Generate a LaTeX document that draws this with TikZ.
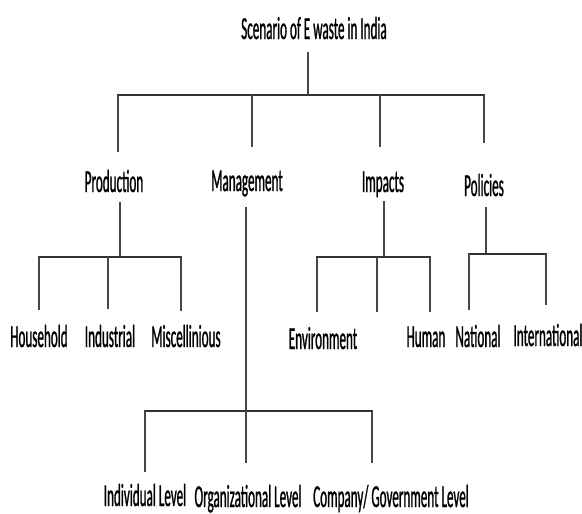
\documentclass[tikz,border=0pt]{standalone}
\usepackage{fontspec}
\setmainfont[FakeStretch=0.41, FakeBold=0.8]{Carlito}
\begin{document}
\begin{tikzpicture}[x=1pt, y=-1pt]
% E-waste tree, laid out in pixel units with y pointing down
\providecommand{\treeTextColor}{black}
\providecommand{\treeBarColor}{black!80}
\providecommand{\treeStemColor}{black!72}
\providecommand{\treeBarWidth}{2.6pt}
\providecommand{\treeStemWidth}{1.2pt}
\tikzset{
  lbl/.style={anchor=base, inner sep=0pt, text=\treeTextColor, font=\fontsize{32}{36}\selectfont},
  bar/.style={draw=\treeBarColor, line width=\treeBarWidth, shorten <=-0.6pt, shorten >=-0.6pt},
  stem/.style={draw=\treeStemColor, line width=\treeStemWidth},
}
\useasboundingbox (0,0) rectangle (582,514);
% Labels
\node[lbl] (root) at (314,39) {Scenario of E waste in India};
\node[lbl] (prod) at (114,192) {Production};
\node[lbl] (mgmt) at (247,191) {Management};
\node[lbl] (imp) at (383,192) {Impacts};
\node[lbl] (pol) at (484,196) {Policies};
\node[lbl] (house) at (39,347) {Household};
\node[lbl] (indus) at (110,347) {Industrial};
\node[lbl] (misc) at (186,347) {Miscellinious};
\node[lbl] (env) at (323,349) {Environment};
\node[lbl] (human) at (426,347) {Human};
\node[lbl] (natl) at (478,347) {National};
\node[lbl] (intl) at (548,346) {International};
\node[lbl] (indiv) at (145,506) {Individual Level};
\node[lbl] (org) at (248,507) {Organizational Level};
\node[lbl] (comp) at (391,507) {Company/ Government Level};
% Fork points on the bars
\coordinate (root-fork) at (308,95);
\coordinate (prod-drop) at (118,95);
\coordinate (mgmt-drop) at (252,95);
\coordinate (imp-drop) at (380,95);
\coordinate (pol-drop) at (484,95);
\coordinate (prod-fork) at (120,257);
\coordinate (house-drop) at (39,257);
\coordinate (indus-drop) at (108,257);
\coordinate (misc-drop) at (181,257);
\coordinate (mgmt-fork) at (246,411);
\coordinate (indiv-drop) at (145,411);
\coordinate (org-drop) at (246,411);
\coordinate (comp-drop) at (372,411);
\coordinate (imp-fork) at (384,257);
\coordinate (env-drop) at (317,257);
\coordinate (mid-drop) at (377,257);
\coordinate (human-drop) at (430,257);
\coordinate (pol-fork) at (486,254);
\coordinate (natl-drop) at (469,254);
\coordinate (intl-drop) at (546,254);
% Stems down to the bars
\draw[stem] ([yshift=-13pt]root.south -| root-fork) -- (root-fork);
\draw[stem] ([yshift=-10pt]prod.south -| prod-fork) -- (prod-fork);
\draw[stem] ([yshift=-10pt]mgmt.south -| mgmt-fork) -- (mgmt-fork);
\draw[stem] ([yshift=-4pt]imp.south -| imp-fork) -- (imp-fork);
\draw[stem] ([yshift=-11pt]pol.south -| pol-fork) -- (pol-fork);
% Bars
\draw[bar] (prod-drop) -- (pol-drop);
\draw[bar] (house-drop) -- (misc-drop);
\draw[bar] (indiv-drop) -- (comp-drop);
\draw[bar] (env-drop) -- (human-drop);
\draw[bar] (natl-drop) -- (intl-drop);
% Drops from the bars
\draw[stem] (prod-drop) -- ([yshift=18pt]prod.north -| prod-drop);
\draw[stem] (mgmt-drop) -- ([yshift=23pt]mgmt.north -| mgmt-drop);
\draw[stem] (imp-drop) -- ([yshift=24pt]imp.north -| imp-drop);
\draw[stem] (pol-drop) -- ([yshift=31pt]pol.north -| pol-drop);
\draw[stem] (house-drop) -- ([yshift=15pt]house.north -| house-drop);
\draw[stem] (indus-drop) -- ([yshift=16pt]indus.north -| indus-drop);
\draw[stem] (misc-drop) -- ([yshift=14pt]misc.north -| misc-drop);
\draw[stem] (env-drop) -- ([yshift=15pt]env.north -| env-drop);
\draw[stem] (mid-drop) -- ([yshift=15pt]env.north -| mid-drop);
\draw[stem] (human-drop) -- ([yshift=14pt]human.north -| human-drop);
\draw[stem] (natl-drop) -- ([yshift=15pt]natl.north -| natl-drop);
\draw[stem] (intl-drop) -- ([yshift=19pt]intl.north -| intl-drop);
\draw[stem] (indiv-drop) -- ([yshift=12pt]indiv.north -| indiv-drop);
\draw[stem] (org-drop) -- ([yshift=22pt]org.north -| org-drop);
\draw[stem] (comp-drop) -- ([yshift=22pt]comp.north -| comp-drop);
\end{tikzpicture}
\end{document}
